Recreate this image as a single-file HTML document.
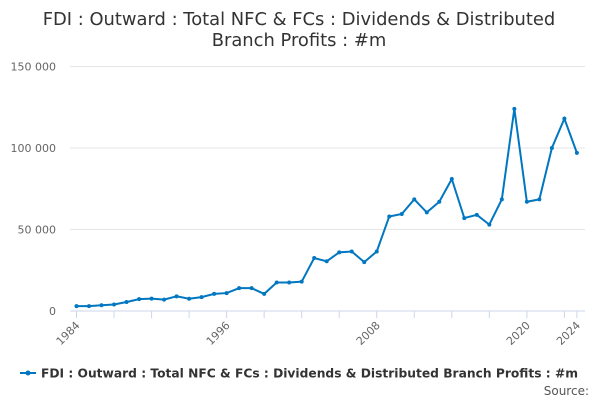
<!DOCTYPE html>
<html><head><meta charset="utf-8"><style>
body{margin:0;background:#fff;font-family:"Liberation Sans","DejaVu Sans",sans-serif}
svg text{font-family:"DejaVu Sans","Liberation Sans",sans-serif}
</style></head><body>
<svg id="c" width="600" height="400">
<text x="299" y="25" text-anchor="middle" font-size="17.9" fill="#333">FDI : Outward : Total NFC &amp; FCs : Dividends &amp; Distributed</text>
<text x="299" y="46" text-anchor="middle" font-size="17.9" fill="#333">Branch Profits : #m</text>
<g id="grid"></g><g id="xax"></g><g id="ser"></g>
<g>
<line x1="20" y1="373" x2="36" y2="373" stroke="#0077c0" stroke-width="2"/>
<circle cx="28" cy="373" r="2.5" fill="#0077c0"/>
<text x="41" y="377.5" font-size="12.3" font-weight="bold" fill="#333" textLength="537" lengthAdjust="spacingAndGlyphs">FDI : Outward : Total NFC &amp; FCs : Dividends &amp; Distributed Branch Profits : #m</text>
</g>
<text x="589" y="395" text-anchor="end" font-size="12" fill="#555">Source:</text>
</svg>
<script>
const years=[1984,1985,1986,1987,1988,1989,1990,1991,1992,1993,1994,1995,1996,1997,1998,1999,2000,2001,2002,2003,2004,2005,2006,2007,2008,2009,2010,2011,2012,2013,2014,2015,2016,2017,2018,2019,2020,2021,2022,2023,2024];
const values=[3000,3000,3500,4000,5500,7300,7600,7000,9000,7500,8500,10500,11000,14000,14000,10500,17500,17500,18000,32500,30500,36000,36500,30000,36500,58000,59500,68500,60500,67000,81000,57000,59000,53000,68500,124000,67000,68500,100000,118000,97000];
const yTicks=[0,50000,100000,150000];
const yTickLabels=["0","50 000","100 000","150 000"];
const xTickLabels=[1984,1996,2008,2020,2024];
const NS="http://www.w3.org/2000/svg";
const X=y=>76.5+(y-1984)*12.51;
const Y=v=>311-v/50000*81.5;
function mk(t,a,p){const e=document.createElementNS(NS,t);for(const k in a)e.setAttribute(k,a[k]);p.appendChild(e);return e;}
const g=document.getElementById('grid'),xa=document.getElementById('xax'),s=document.getElementById('ser');
yTicks.forEach((v,i)=>{
 const l=mk('line',{x1:70,x2:585,y1:Y(v),y2:Y(v),stroke:i==0?'#ccd6eb':'#e6e6e6','stroke-width':1},g);
 
 
 const t=mk('text',{x:56,y:Y(v)+4,'text-anchor':'end','font-size':11,fill:'#666'},g);t.textContent=yTickLabels[i];
 
 
});
for(let y=1984;y<=2024;y+=3){const l=mk('line',{x1:X(y),x2:X(y),y1:311,y2:318,stroke:'#ccd6eb'},xa);
 
 }
mk('line',{x1:X(2024),x2:X(2024),y1:311,y2:318,stroke:'#ccd6eb'},xa);
xTickLabels.forEach(y=>{const t=mk('text',{x:X(y)+4,y:326,'text-anchor':'end','font-size':11,fill:'#666',transform:`rotate(-45 ${X(y)+4} 326)`},xa);t.textContent=y;
 
 });
const p=mk('polyline',{points:years.map((y,i)=>X(y)+','+Y(values[i])).join(' '),fill:'none',stroke:'#0077c0','stroke-width':2},s);


years.forEach((y,i)=>{const c=mk('circle',{cx:X(y),cy:Y(values[i]),r:2,fill:'#0077c0'},s);
 
 });
</script>
</body></html>
